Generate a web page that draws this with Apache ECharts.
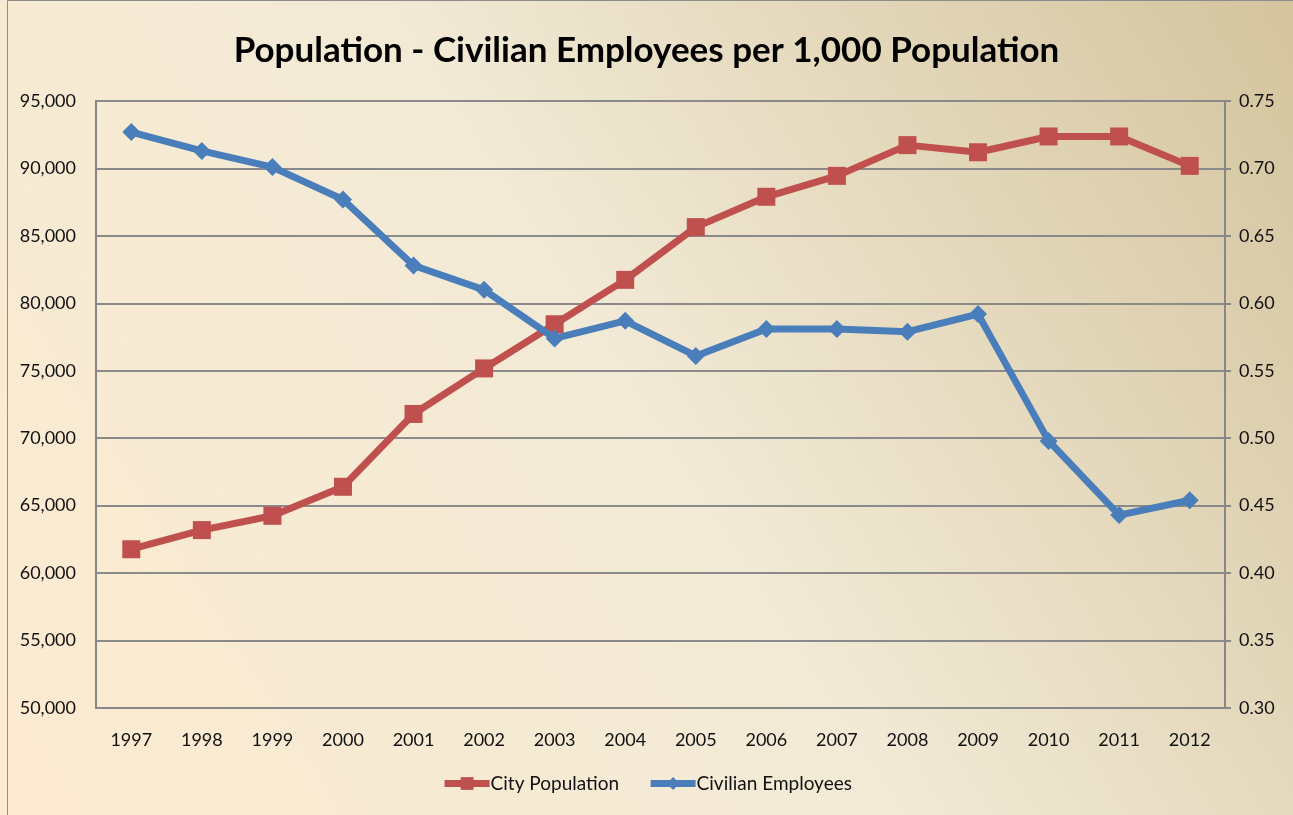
<!DOCTYPE html>
<html>
<head>
<meta charset="utf-8">
<script src="https://cdn.jsdelivr.net/npm/echarts@6/dist/echarts.min.js"></script>
<style>
html,body{margin:0;padding:0;background:#fff;}
#chart{width:1293px;height:815px;}
</style>
</head>
<body>
<div id="chart"></div>
<script>
const titleText = 'Population - Civilian Employees per 1,000 Population';
const years = ['1997','1998','1999','2000','2001','2002','2003','2004','2005','2006','2007','2008','2009','2010','2011','2012'];
const cityPopulation = [61770, 63190, 64250, 66400, 71800, 75175, 78450, 81740, 85650, 87900, 89450, 91730, 91200, 92370, 92370, 90190];
const civilianEmployees = [0.727, 0.713, 0.701, 0.677, 0.628, 0.610, 0.574, 0.587, 0.561, 0.581, 0.581, 0.579, 0.592, 0.498, 0.443, 0.454];
const leftTicks = {min: 50000, max: 95000, interval: 5000};
const rightTicks = {min: 0.30, max: 0.75, interval: 0.05};

const chart = echarts.init(document.getElementById('chart'), null, {renderer: 'canvas'});
const fontFam = 'Lato, "Open Sans", sans-serif';
chart.setOption({
  backgroundColor: new echarts.graphic.LinearGradient(0, 1, 1, 0, [
    {offset: 0, color: '#FDEBD0'},
    {offset: 0.5, color: '#F2EAD6'},
    {offset: 1, color: '#D4C49E'}
  ]),
  animation: false,
  title: {
    text: titleText,
    left: 'center',
    top: 28,
    textStyle: {fontFamily: fontFam, fontWeight: 'bold', fontSize: 35, color: '#000'}
  },
  graphic: [
    {type: 'rect', shape: {x: 7.5, y: 0.5, width: 1300, height: 830}, style: {fill: 'none', stroke: '#8c8c8c', lineWidth: 1}, silent: true}
  ],
  grid: {left: 96, right: 68, top: 101, bottom: 107, containLabel: false},
  legend: {
    bottom: 17,
    left: 'center',
    itemWidth: 45,
    itemHeight: 16,
    itemGap: 28,
    lineStyle: {width: 7},
    textStyle: {fontFamily: fontFam, fontSize: 19, color: '#111', padding: [0, 0, 0, -4]},
    data: ['City Population', 'Civilian Employees']
  },
  xAxis: {
    type: 'category',
    data: years,
    boundaryGap: true,
    axisLine: {lineStyle: {color: '#878787', width: 2}},
    axisTick: {show: false},
    axisLabel: {fontFamily: fontFam, fontSize: 18, color: '#111', margin: 23}
  },
  yAxis: [
    {
      type: 'value',
      min: leftTicks.min, max: leftTicks.max, interval: leftTicks.interval,
      axisLine: {show: true, lineStyle: {color: '#878787', width: 2}},
      axisTick: {show: false},
      splitLine: {lineStyle: {color: '#8a8a8a', width: 2}},
      axisLabel: {fontFamily: fontFam, fontSize: 18, color: '#111', margin: 20,
        formatter: v => v.toLocaleString('en-US')}
    },
    {
      type: 'value',
      min: rightTicks.min, max: rightTicks.max, interval: rightTicks.interval,
      position: 'right',
      axisLine: {show: true, lineStyle: {color: '#878787', width: 2}},
      axisTick: {show: true, length: 6, lineStyle: {color: '#878787', width: 2}},
      splitLine: {show: false},
      axisLabel: {fontFamily: fontFam, fontSize: 18, color: '#111', margin: 14,
        formatter: v => v.toFixed(2)}
    }
  ],
  series: [
    {
      name: 'City Population',
      type: 'line',
      yAxisIndex: 0,
      data: cityPopulation,
      symbol: 'rect',
      symbolSize: 18,
      lineStyle: {color: '#C0504D', width: 7},
      itemStyle: {color: '#C0504D'},
      z: 2
    },
    {
      name: 'Civilian Employees',
      type: 'line',
      yAxisIndex: 1,
      data: civilianEmployees,
      symbol: 'diamond',
      symbolSize: 18,
      lineStyle: {color: '#4A7EBB', width: 7},
      itemStyle: {color: '#4A7EBB'},
      z: 3
    }
  ]
});
</script>
</body>
</html>
